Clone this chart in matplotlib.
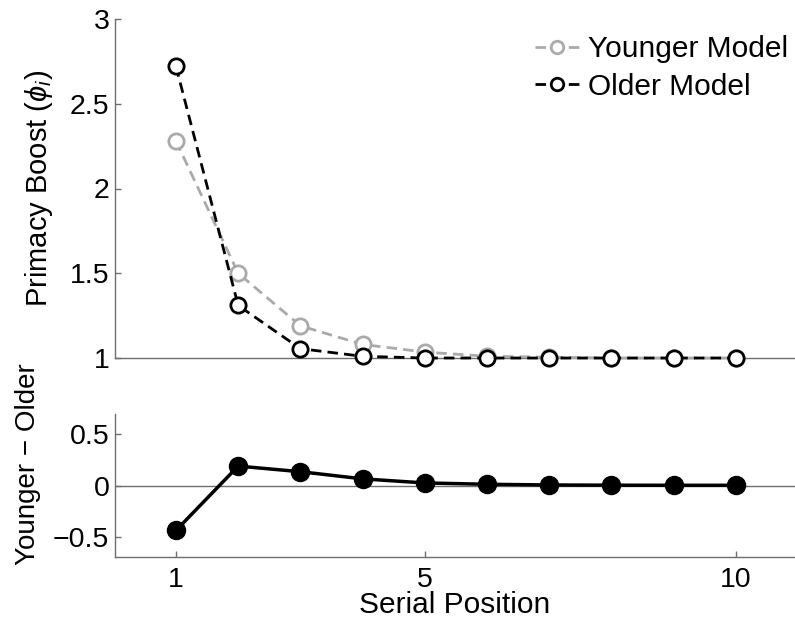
import matplotlib
matplotlib.use("Agg")
import matplotlib.pyplot as plt

# values
positions = [1, 2, 3, 4, 5, 6, 7, 8, 9, 10]
younger = [2.28, 1.50, 1.19, 1.08, 1.035, 1.01, 1.005, 1.0, 1.0, 1.0]
older = [2.72, 1.31, 1.055, 1.01, 1.0, 1.0, 1.0, 1.0, 1.0, 1.0]
diff = [-0.44, 0.19, 0.135, 0.065, 0.025, 0.012, 0.005, 0.003, 0.002, 0.002]

GRAY = "#aaaaaa"
AXIS = "#6e6e6e"

plt.rcParams["font.family"] = ["Liberation Sans", "DejaVu Sans"]
plt.rcParams["mathtext.fontset"] = "custom"
plt.rcParams["mathtext.rm"] = "Liberation Sans"
plt.rcParams["mathtext.it"] = "Liberation Sans:italic"


def style_axis(ax):
    for side in ("top", "right"):
        ax.spines[side].set_visible(False)
    for side in ("left", "bottom"):
        ax.spines[side].set_color(AXIS)
        ax.spines[side].set_linewidth(1.0)
    ax.tick_params(direction="in", length=4, width=1.0, color=AXIS,
                   labelsize=20.5, pad=4)


fig = plt.figure(figsize=(7.95, 6.29), dpi=100)

# --- top panel ---
ax1 = fig.add_axes([115 / 795, 271 / 629, 680 / 795, 339 / 629])
style_axis(ax1)
ax1.plot(positions, younger, linestyle=(0, (3.8, 2.2)), color=GRAY, lw=2,
         marker="o", ms=11, mfc="white", mec=GRAY, mew=2, clip_on=False,
         label="Younger Model", zorder=3)
ax1.plot(positions, older, linestyle=(0, (3.8, 2.2)), color="black", lw=2,
         marker="o", ms=11, mfc="white", mec="black", mew=2, clip_on=False,
         label="Older Model", zorder=4)
ax1.set_xlim(0.02, 10.95)
ax1.set_ylim(1, 3)
ax1.set_yticks([1, 1.5, 2, 2.5, 3])
ax1.set_yticklabels(["1", "1.5", "2", "2.5", "3"])
ax1.set_xticks([])
ax1.set_ylabel(r"Primacy Boost ($\phi_i$)", fontsize=21)
ax1.yaxis.set_label_coords(-0.088, 0.5)
leg = fig.legend(*ax1.get_legend_handles_labels(), loc="upper right",
                 bbox_to_anchor=(788 / 795, 1 - 35 / 629), frameon=False,
                 fontsize=21.5, handlelength=1.5, handletextpad=0.27,
                 labelspacing=0.32, borderpad=0, borderaxespad=0)
for h in leg.legend_handles:
    h.set_markersize(9)

# --- bottom panel ---
ax2 = fig.add_axes([115 / 795, 72 / 629, 680 / 795, 143 / 629])
style_axis(ax2)
ax2.tick_params(axis="x", pad=7)
ax2.axhline(0, color=AXIS, lw=1.0, zorder=1)
ax2.plot(positions, diff, color="black", lw=2.5, marker="o", ms=13,
         mfc="black", mec="black", clip_on=False, zorder=3)
ax2.set_xlim(0.02, 10.95)
ax2.set_ylim(-0.7, 0.7)
ax2.set_yticks([-0.5, 0, 0.5])
ax2.set_yticklabels(["\u22120.5", "0", "0.5"])
ax2.set_xticks([1, 5, 10])
ax2.set_xlabel("Serial Position", fontsize=21.5, labelpad=-1)
ax2.set_ylabel("Younger \u2212 Older", fontsize=20)
ax2.yaxis.set_label_coords(-0.109, 0.65)

fig.savefig("out.png", dpi=100)
